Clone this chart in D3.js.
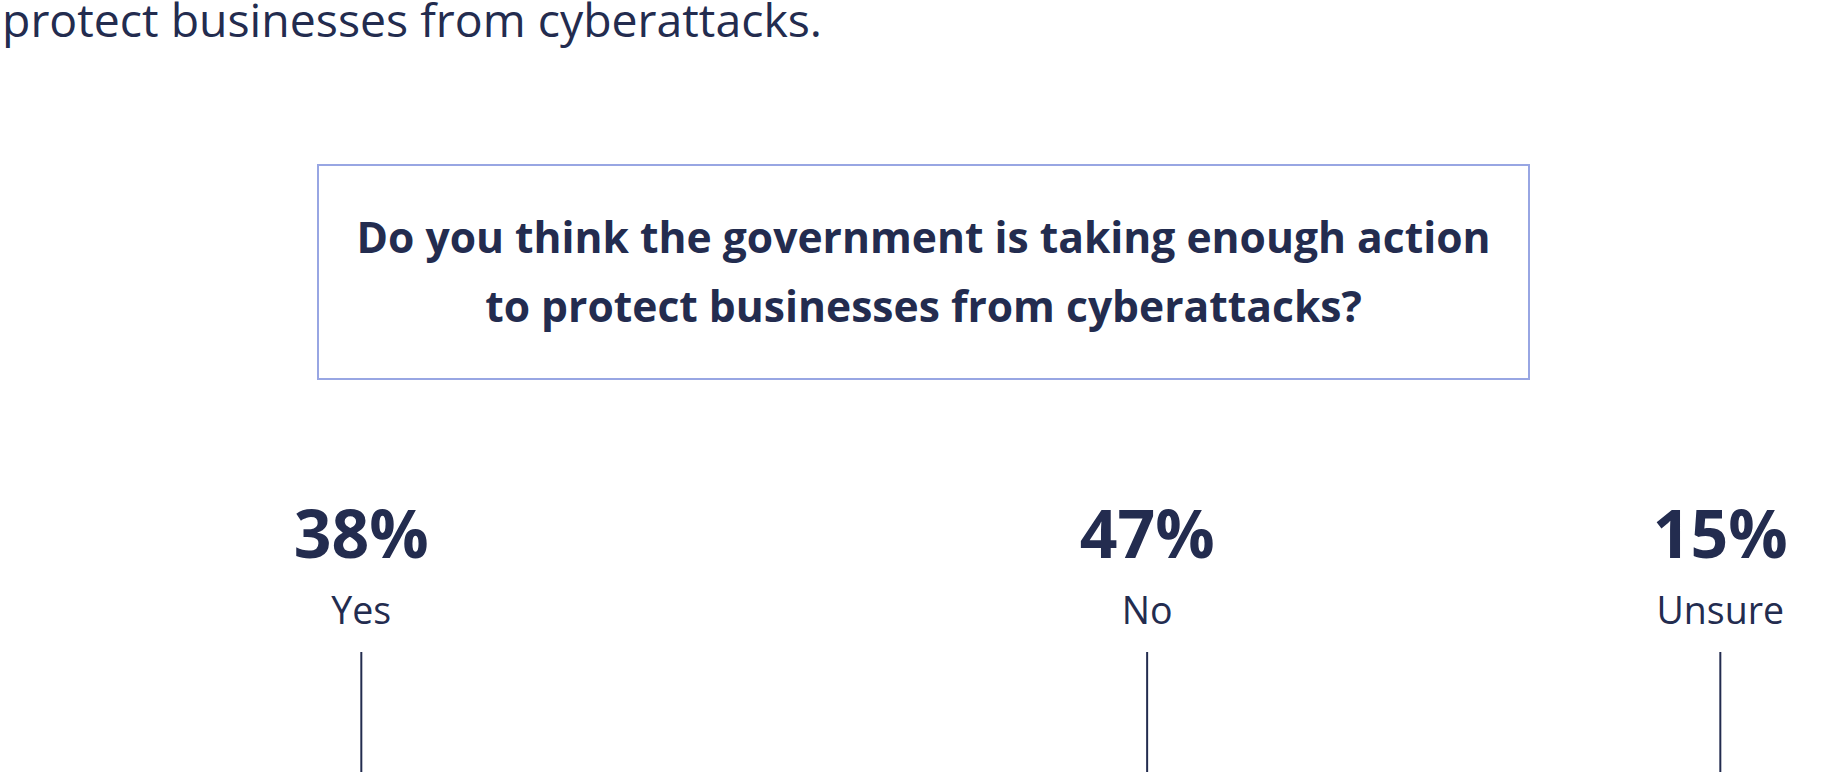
<!DOCTYPE html>
<html>
<head>
<meta charset="utf-8">
<script src="https://cdn.jsdelivr.net/npm/d3@7"></script>
<style>
  body { margin: 0; background: #fff; overflow: hidden; }
  text { font-family: "Open Sans", sans-serif; fill: #232c4f; }
</style>
</head>
<body>
<div id="chart"></div>
<script>
// answers to the survey question
var categories = ["Yes", "No", "Unsure"]
var values = [38, 47, 15]
var questionLines = ["Do you think the government is taking enough action",
                     "to protect businesses from cyberattacks?"]
var introText = "protect businesses from cyberattacks."

var width = 1833, height = 772
var ink = "#232c4f"

var svg = d3.select("#chart").append("svg")
    .attr("width", width).attr("height", height)

// tail of the paragraph above (cut off by the top edge)
svg.append("text").attr("x", 2).attr("y", 37)
    .style("font-size", "46.4px").text(introText)

// question box
var box = { x: 318, y: 165, w: 1211, h: 214 }
svg.append("rect")
    .attr("x", box.x).attr("y", box.y)
    .attr("width", box.w).attr("height", box.h)
    .attr("fill", "none").attr("stroke", "#98a6e3").attr("stroke-width", 2)

svg.selectAll(".question").data(questionLines).enter()
    .append("text").attr("class", "question")
    .attr("x", box.x + box.w / 2)
    .attr("y", function(d, i){ return 253 + i * 69 })
    .attr("text-anchor", "middle")
    .style("font-size", "42.6px").style("font-weight", "700")
    .text(function(d){ return d })

// stacked share scale, the bar itself sits below the visible area
var x = d3.scaleLinear().domain([0, 100]).range([10, 1859])
var cum = 0
var segments = values.map(function(v, i){
    var s = { label: categories[i], value: v, start: cum }
    cum += v
    return s
})
function mid(d){ return x(d.start + d.value / 2) }

var g = svg.selectAll(".answer").data(segments).enter()
    .append("g").attr("class", "answer")

g.append("text")
    .attr("x", mid).attr("y", 558)
    .attr("text-anchor", "middle")
    .style("font-size", "66px").style("font-weight", "700")
    .text(function(d){ return d.value + "%" })

g.append("text")
    .attr("x", mid).attr("y", 624)
    .attr("text-anchor", "middle")
    .style("font-size", "37.5px")
    .text(function(d){ return d.label })

g.append("line")
    .attr("x1", mid).attr("x2", mid)
    .attr("y1", 652).attr("y2", height + 10)
    .attr("stroke", ink).attr("stroke-width", 2)
</script>
</body>
</html>
